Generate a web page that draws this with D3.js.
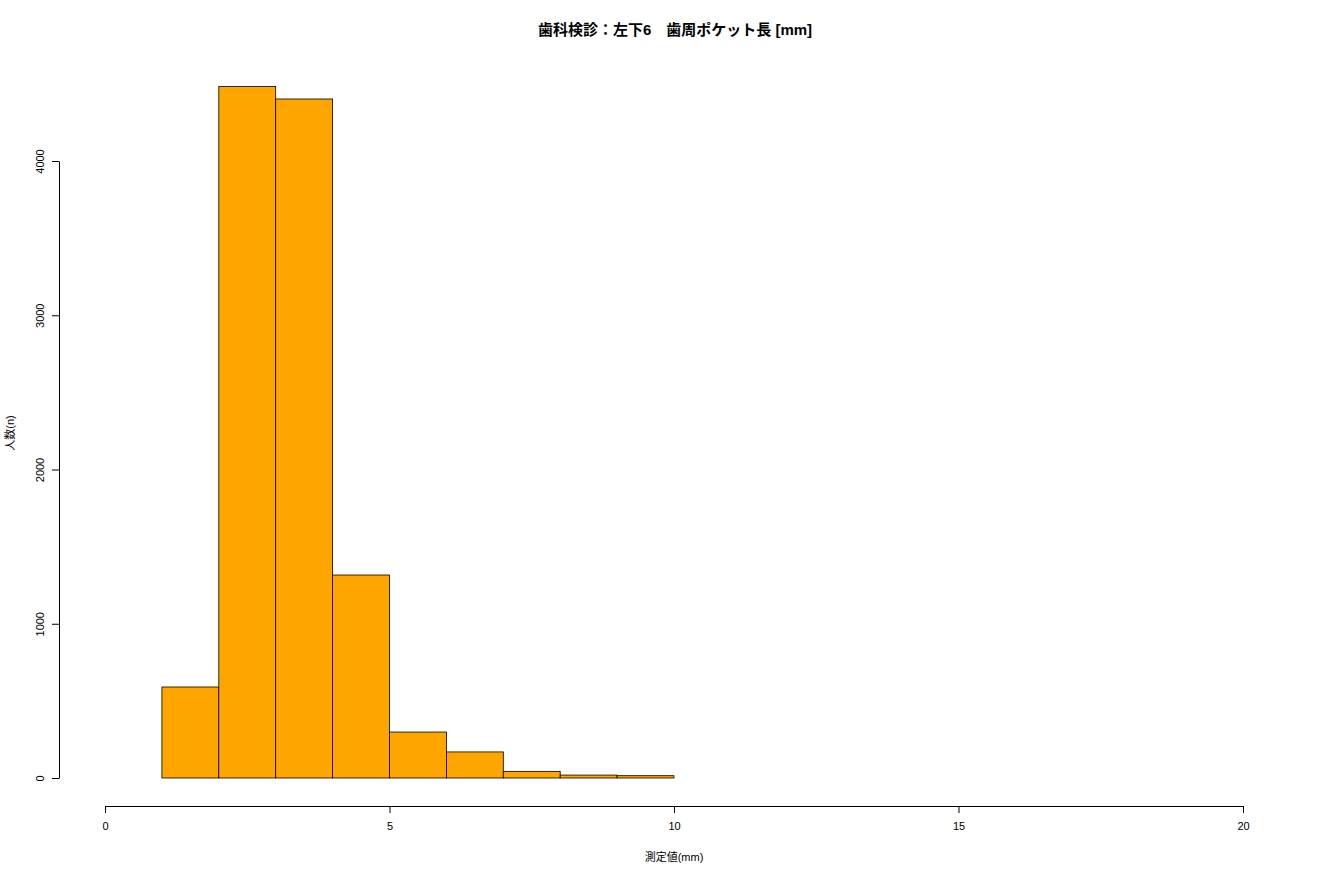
<!DOCTYPE html>
<html>
<head>
<meta charset="utf-8">
<script src="https://cdn.jsdelivr.net/npm/d3@7"></script>
<style>
  body { margin: 0; background: #fff; }
  text { font-family: "Liberation Sans", "Noto Sans CJK JP", sans-serif; }
</style>
</head>
<body>
<svg id="chart" width="1320" height="880"></svg>
<script>
// histogram bins (mm) and counts
const binStart = [1, 2, 3, 4, 5, 6, 7, 8, 9]
const binEnd   = [2, 3, 4, 5, 6, 7, 8, 9, 10]
const counts   = [590, 4483, 4402, 1316, 298, 169, 43, 19, 15]

const xTicks = [0, 5, 10, 15, 20]
const yTicks = [0, 1000, 2000, 3000, 4000]

const title = '歯科検診：左下6　歯周ポケット長 [mm]'
const xTitle = '測定値(mm)'
const yTitle = '人数(n)'

const svg = d3.select('#chart')

// plot region
const x = d3.scaleLinear().domain([0, 20]).range([105, 1243])
const y = d3.scaleLinear().domain([0, 4000]).range([778, 161])

/* bars */
svg.selectAll('.bar')
    .data(counts)
    .join('rect')
    .classed('bar', true)
    .attr('x', (d, i) => x(binStart[i]))
    .attr('width', (d, i) => x(binEnd[i]) - x(binStart[i]))
    .attr('y', d => y(d))
    .attr('height', d => y(0) - y(d))
    .attr('fill', '#ffa500')
    .attr('stroke', '#000')
    .attr('stroke-width', 0.8)

/* x axis */
const xAxis = d3.axisBottom(x).tickValues(xTicks).tickFormat(d3.format('d'))
    .tickSize(7).tickPadding(9).tickSizeOuter(0)
const gx = svg.append('g').attr('transform', 'translate(0,806)').call(xAxis)
gx.selectAll('text').attr('font-size', 11).attr('fill', '#000')
    .style('font-family', '"Liberation Sans", sans-serif')
gx.select('.domain').attr('stroke', '#000')

/* y axis */
const yAxis = d3.axisLeft(y).tickValues(yTicks).tickFormat(d3.format('d'))
    .tickSize(7).tickPadding(0).tickSizeOuter(0)
const gy = svg.append('g').attr('transform', 'translate(59,0)').call(yAxis)
gy.select('.domain').attr('stroke', '#000')
gy.selectAll('.tick text')
    .attr('x', null).attr('dy', null)
    .attr('transform', 'translate(-15,0) rotate(-90)')
    .attr('text-anchor', 'middle')
    .attr('font-size', 11).attr('fill', '#000')
    .style('font-family', '"Liberation Sans", sans-serif')

/* titles */
svg.append('text')
    .attr('x', 675).attr('y', 35)
    .attr('text-anchor', 'middle')
    .attr('font-size', 15).attr('font-weight', 'bold')
    .text(title)

svg.append('text')
    .attr('x', 674).attr('y', 861)
    .attr('text-anchor', 'middle')
    .attr('font-size', 11)
    .text(xTitle)

svg.append('text')
    .attr('transform', 'translate(14,433) rotate(-90)')
    .attr('text-anchor', 'middle')
    .attr('font-size', 11)
    .text(yTitle)
</script>
</body>
</html>
